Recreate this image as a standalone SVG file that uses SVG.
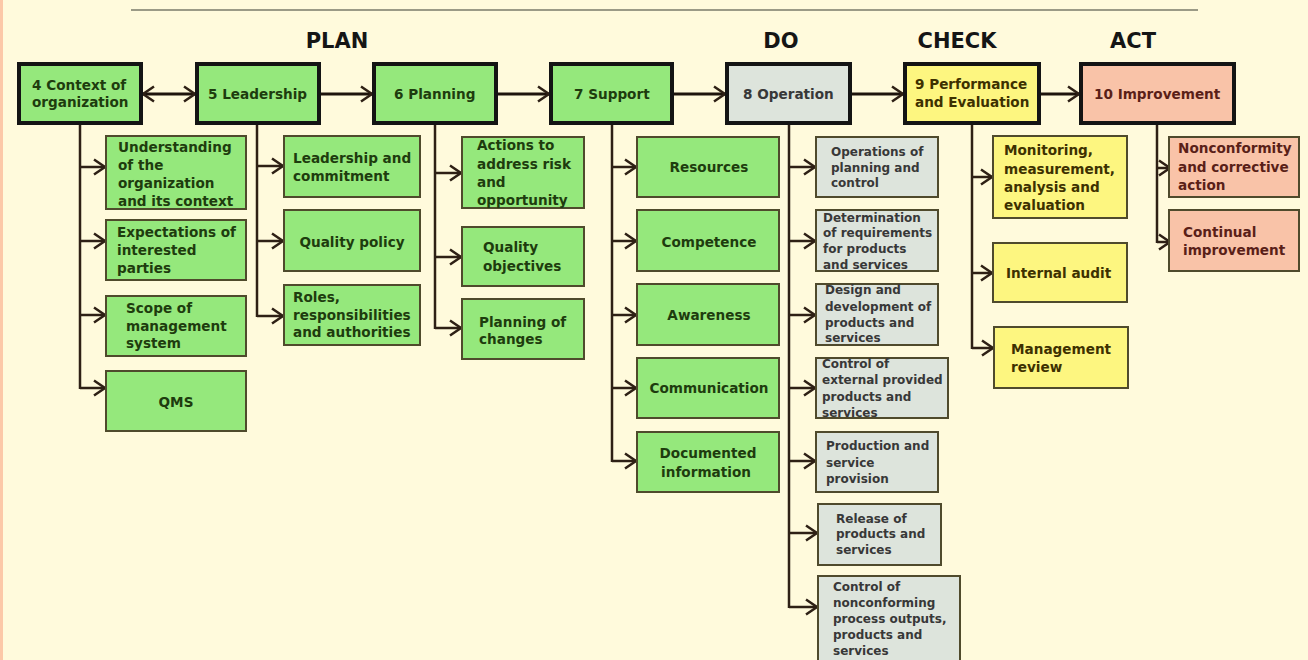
<svg xmlns="http://www.w3.org/2000/svg" width="1308" height="660" viewBox="0 0 1308 660">
<style>
text{font-family:"DejaVu Sans","Liberation Sans",sans-serif;font-weight:bold;}
.hd{font-size:21px;fill:#151515;text-anchor:middle;}
.main{stroke:#141414;stroke-width:4;}
.sub{stroke:#4f4a2c;stroke-width:2;}
.g{fill:#95e87c;}
.gr{fill:#dde4dc;}
.y{fill:#fdf680;}
.p{fill:#f9c3a8;}
.tg{fill:#1e3c0e;font-size:13.6px;}
.tgr{fill:#383838;font-size:12px;}
.tgrm{fill:#383838;font-size:13.6px;}
.ty{fill:#3d3100;font-size:13.6px;}
.tp{fill:#5a1f18;font-size:13.6px;}
.c{text-anchor:middle;}
.ln{stroke:#2e2015;stroke-width:2.5;fill:none;}
.mln{stroke:#1e140c;stroke-width:3;fill:none;}
</style>
<defs>
<marker id="ah" markerUnits="userSpaceOnUse" markerWidth="18" markerHeight="20" refX="13" refY="9" orient="auto-start-reverse">
<path d="M2,1.5 L13,9 L2,16.5" fill="none" stroke="#2e2015" stroke-width="2.5"/>
</marker>
</defs>
<rect x="0" y="0" width="1308" height="660" fill="#fffadc"/>
<rect x="0" y="0" width="3" height="660" fill="#fcc8a8"/>
<line x1="131" y1="10" x2="1198" y2="10" stroke="#7a7a6a" stroke-width="1.5"/>

<g id="headers">
<text class="hd" x="337" y="48">PLAN</text>
<text class="hd" x="781" y="48">DO</text>
<text class="hd" x="957" y="48">CHECK</text>
<text class="hd" x="1133" y="48">ACT</text>
</g>

<g id="connectors">
<line class="mln" x1="143" y1="94" x2="195" y2="94" marker-start="url(#ah)" marker-end="url(#ah)"/>
<line class="mln" x1="321" y1="94" x2="372" y2="94" marker-end="url(#ah)"/>
<line class="mln" x1="498" y1="94" x2="549" y2="94" marker-end="url(#ah)"/>
<line class="mln" x1="674" y1="94" x2="725" y2="94" marker-end="url(#ah)"/>
<line class="mln" x1="852" y1="94" x2="903" y2="94" marker-end="url(#ah)"/>
<line class="mln" x1="1041" y1="94" x2="1079" y2="94" marker-end="url(#ah)"/>
<!-- col 4 -->
<path class="ln" d="M80,125 V389"/>
<line class="ln" x1="80" y1="167" x2="105" y2="167" marker-end="url(#ah)"/>
<line class="ln" x1="80" y1="241" x2="105" y2="241" marker-end="url(#ah)"/>
<line class="ln" x1="80" y1="315" x2="105" y2="315" marker-end="url(#ah)"/>
<line class="ln" x1="80" y1="388" x2="105" y2="388" marker-end="url(#ah)"/>
<!-- col 5 -->
<path class="ln" d="M257,125 V317"/>
<line class="ln" x1="257" y1="166" x2="283" y2="166" marker-end="url(#ah)"/>
<line class="ln" x1="257" y1="241" x2="283" y2="241" marker-end="url(#ah)"/>
<line class="ln" x1="257" y1="316" x2="283" y2="316" marker-end="url(#ah)"/>
<!-- col 6 -->
<path class="ln" d="M435,125 V329"/>
<line class="ln" x1="435" y1="173" x2="461" y2="173" marker-end="url(#ah)"/>
<line class="ln" x1="435" y1="257" x2="461" y2="257" marker-end="url(#ah)"/>
<line class="ln" x1="435" y1="328" x2="461" y2="328" marker-end="url(#ah)"/>
<!-- col 7 -->
<path class="ln" d="M612,125 V462"/>
<line class="ln" x1="612" y1="167" x2="636" y2="167" marker-end="url(#ah)"/>
<line class="ln" x1="612" y1="241" x2="636" y2="241" marker-end="url(#ah)"/>
<line class="ln" x1="612" y1="315" x2="636" y2="315" marker-end="url(#ah)"/>
<line class="ln" x1="612" y1="388" x2="636" y2="388" marker-end="url(#ah)"/>
<line class="ln" x1="612" y1="461" x2="636" y2="461" marker-end="url(#ah)"/>
<!-- col 8 -->
<path class="ln" d="M789,125 V608"/>
<line class="ln" x1="789" y1="167" x2="815" y2="167" marker-end="url(#ah)"/>
<line class="ln" x1="789" y1="241" x2="815" y2="241" marker-end="url(#ah)"/>
<line class="ln" x1="789" y1="315" x2="815" y2="315" marker-end="url(#ah)"/>
<line class="ln" x1="789" y1="388" x2="815" y2="388" marker-end="url(#ah)"/>
<line class="ln" x1="789" y1="461" x2="815" y2="461" marker-end="url(#ah)"/>
<line class="ln" x1="789" y1="533" x2="817" y2="533" marker-end="url(#ah)"/>
<line class="ln" x1="789" y1="607" x2="817" y2="607" marker-end="url(#ah)"/>
<!-- col 9 -->
<path class="ln" d="M972,125 V349"/>
<line class="ln" x1="972" y1="177" x2="992" y2="177" marker-end="url(#ah)"/>
<line class="ln" x1="972" y1="273" x2="992" y2="273" marker-end="url(#ah)"/>
<line class="ln" x1="972" y1="348" x2="993" y2="348" marker-end="url(#ah)"/>
<!-- col 10 -->
<path class="ln" d="M1157,125 V243"/>
<line class="ln" x1="1157" y1="168" x2="1170" y2="168" marker-end="url(#ah)"/>
<line class="ln" x1="1157" y1="242" x2="1170" y2="242" marker-end="url(#ah)"/>
</g>

<!-- main nodes -->
<g id="n4"><rect class="main g" x="19" y="64" width="122" height="59"/>
<text class="tg"><tspan x="32" y="90">4 Context of</tspan><tspan x="32" y="107">organization</tspan></text></g>
<g id="n5"><rect class="main g" x="197" y="64" width="122" height="59"/>
<text class="tg" x="208" y="99">5 Leadership</text></g>
<g id="n6"><rect class="main g" x="374" y="64" width="122" height="59"/>
<text class="tg" x="394" y="99">6 Planning</text></g>
<g id="n7"><rect class="main g" x="551" y="64" width="121" height="59"/>
<text class="tg" x="574" y="99">7 Support</text></g>
<g id="n8"><rect class="main gr" x="727" y="64" width="123" height="59"/>
<text class="tgrm" x="743" y="99">8 Operation</text></g>
<g id="n9"><rect class="main y" x="905" y="64" width="134" height="59"/>
<text class="ty"><tspan x="915" y="89">9 Performance</tspan><tspan x="915" y="107">and Evaluation</tspan></text></g>
<g id="n10"><rect class="main p" x="1081" y="64" width="153" height="59"/>
<text class="tp" x="1094" y="99">10 Improvement</text></g>

<!-- col 4 subs -->
<g id="s4a"><rect class="sub g" x="106" y="136" width="140" height="73"/>
<text class="tg"><tspan x="118" y="152">Understanding</tspan><tspan x="118" y="170">of the</tspan><tspan x="118" y="188">organization</tspan><tspan x="118" y="206">and its context</tspan></text></g>
<g id="s4b"><rect class="sub g" x="106" y="220" width="140" height="60"/>
<text class="tg"><tspan x="117" y="237">Expectations of</tspan><tspan x="117" y="255">interested</tspan><tspan x="117" y="273">parties</tspan></text></g>
<g id="s4c"><rect class="sub g" x="106" y="296" width="140" height="60"/>
<text class="tg"><tspan x="126" y="313">Scope of</tspan><tspan x="126" y="331">management</tspan><tspan x="126" y="348">system</tspan></text></g>
<g id="s4d"><rect class="sub g" x="106" y="371" width="140" height="60"/>
<text class="tg c" x="176" y="407">QMS</text></g>

<!-- col 5 subs -->
<g id="s5a"><rect class="sub g" x="284" y="136" width="136" height="61"/>
<text class="tg"><tspan x="293" y="163">Leadership and</tspan><tspan x="293" y="181">commitment</tspan></text></g>
<g id="s5b"><rect class="sub g" x="284" y="210" width="136" height="61"/>
<text class="tg c" x="352" y="247">Quality policy</text></g>
<g id="s5c"><rect class="sub g" x="284" y="285" width="136" height="60"/>
<text class="tg"><tspan x="293" y="302">Roles,</tspan><tspan x="293" y="320">responsibilities</tspan><tspan x="293" y="337">and authorities</tspan></text></g>

<!-- col 6 subs -->
<g id="s6a"><rect class="sub g" x="462" y="137" width="122" height="71"/>
<text class="tg"><tspan x="477" y="150">Actions to</tspan><tspan x="477" y="169">address risk</tspan><tspan x="477" y="187">and</tspan><tspan x="477" y="205">opportunity</tspan></text></g>
<g id="s6b"><rect class="sub g" x="462" y="227" width="122" height="59"/>
<text class="tg"><tspan x="483" y="252">Quality</tspan><tspan x="483" y="271">objectives</tspan></text></g>
<g id="s6c"><rect class="sub g" x="462" y="299" width="122" height="60"/>
<text class="tg"><tspan x="479" y="327">Planning of</tspan><tspan x="479" y="344">changes</tspan></text></g>

<!-- col 7 subs -->
<g id="s7a"><rect class="sub g" x="637" y="137" width="142" height="60"/>
<text class="tg c" x="709" y="172">Resources</text></g>
<g id="s7b"><rect class="sub g" x="637" y="210" width="142" height="61"/>
<text class="tg c" x="709" y="247">Competence</text></g>
<g id="s7c"><rect class="sub g" x="637" y="284" width="142" height="61"/>
<text class="tg c" x="709" y="320">Awareness</text></g>
<g id="s7d"><rect class="sub g" x="637" y="358" width="142" height="60"/>
<text class="tg c" x="709" y="393">Communication</text></g>
<g id="s7e"><rect class="sub g" x="637" y="432" width="142" height="60"/>
<text class="tg c"><tspan x="708" y="458">Documented</tspan><tspan x="706" y="477">information</tspan></text></g>

<!-- col 8 subs -->
<g id="s8a"><rect class="sub gr" x="816" y="137" width="122" height="60"/>
<text class="tgr"><tspan x="831" y="156">Operations of</tspan><tspan x="831" y="172">planning and</tspan><tspan x="831" y="187">control</tspan></text></g>
<g id="s8b"><rect class="sub gr" x="816" y="210" width="122" height="61"/>
<text class="tgr"><tspan x="823" y="222">Determination</tspan><tspan x="823" y="237">of requirements</tspan><tspan x="823" y="253">for products</tspan><tspan x="823" y="269">and services</tspan></text></g>
<g id="s8c"><rect class="sub gr" x="816" y="284" width="122" height="61"/>
<text class="tgr"><tspan x="825" y="294">Design and</tspan><tspan x="825" y="311">development of</tspan><tspan x="825" y="327">products and</tspan><tspan x="825" y="342">services</tspan></text></g>
<g id="s8d"><rect class="sub gr" x="816" y="358" width="132" height="60"/>
<text class="tgr"><tspan x="822" y="368">Control of</tspan><tspan x="822" y="384">external provided</tspan><tspan x="822" y="401">products and</tspan><tspan x="822" y="417">services</tspan></text></g>
<g id="s8e"><rect class="sub gr" x="816" y="432" width="122" height="60"/>
<text class="tgr"><tspan x="826" y="450">Production and</tspan><tspan x="826" y="467">service</tspan><tspan x="826" y="483">provision</tspan></text></g>
<g id="s8f"><rect class="sub gr" x="818" y="504" width="123" height="61"/>
<text class="tgr"><tspan x="836" y="523">Release of</tspan><tspan x="836" y="538">products and</tspan><tspan x="836" y="554">services</tspan></text></g>
<g id="s8g"><rect class="sub gr" x="818" y="576" width="142" height="100"/>
<text class="tgr"><tspan x="833" y="591">Control of</tspan><tspan x="833" y="607">nonconforming</tspan><tspan x="833" y="623">process outputs,</tspan><tspan x="833" y="639">products and</tspan><tspan x="833" y="655">services</tspan></text></g>

<!-- col 9 subs -->
<g id="s9a"><rect class="sub y" x="993" y="136" width="134" height="82"/>
<text class="ty"><tspan x="1004" y="155">Monitoring,</tspan><tspan x="1004" y="174">measurement,</tspan><tspan x="1004" y="192">analysis and</tspan><tspan x="1004" y="210">evaluation</tspan></text></g>
<g id="s9b"><rect class="sub y" x="993" y="243" width="134" height="59"/>
<text class="ty" x="1006" y="278">Internal audit</text></g>
<g id="s9c"><rect class="sub y" x="994" y="327" width="134" height="61"/>
<text class="ty"><tspan x="1011" y="354">Management</tspan><tspan x="1011" y="372">review</tspan></text></g>

<!-- col 10 subs -->
<g id="s10a"><rect class="sub p" x="1169" y="137" width="130" height="60"/>
<text class="tp"><tspan x="1178" y="153">Nonconformity</tspan><tspan x="1178" y="172">and corrective</tspan><tspan x="1178" y="190">action</tspan></text></g>
<g id="s10b"><rect class="sub p" x="1169" y="210" width="130" height="61"/>
<text class="tp"><tspan x="1183" y="237">Continual</tspan><tspan x="1183" y="255">improvement</tspan></text></g>
</svg>
